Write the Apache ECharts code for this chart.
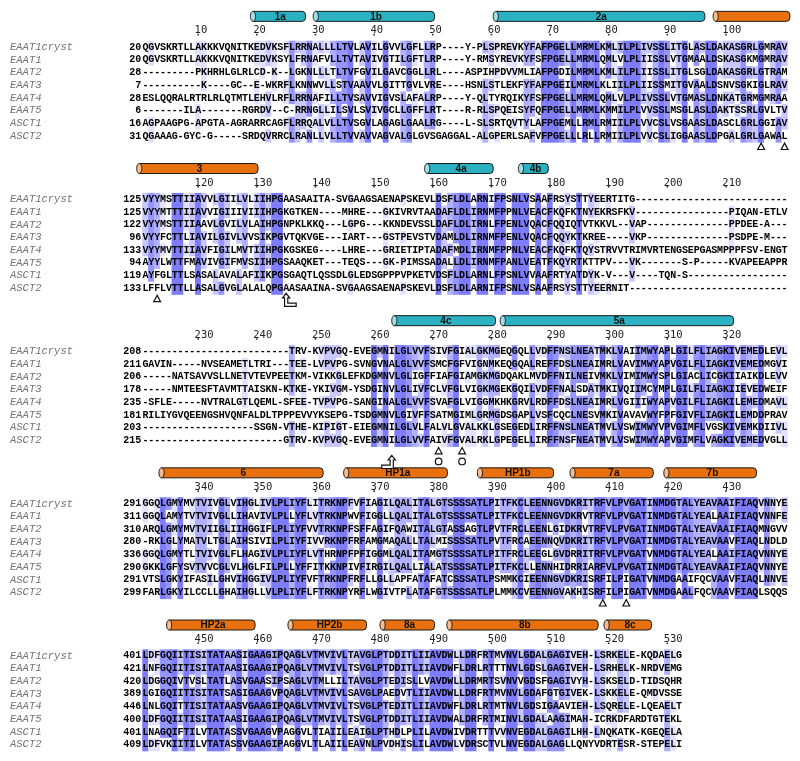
<!DOCTYPE html>
<html><head><meta charset="utf-8">
<script src="https://cdn.jsdelivr.net/npm/echarts@6/dist/echarts.min.js"></script>
<style>html,body{margin:0;padding:0;background:#fff}#c{width:800px;height:761px}</style>
</head><body><div id="c"></div>
<script>
// ---------------- DATA ----------------
const seqNames = ['EAAT1cryst','EAAT1','EAAT2','EAAT3','EAAT4','EAAT5','ASCT1','ASCT2'];
const startNums = [
  [20,20,28,7,28,6,16,31],
  [125,125,122,96,133,94,119,133],
  [208,211,206,178,235,181,203,215],
  [291,311,310,280,336,290,291,299],
  [401,421,420,389,446,400,401,409]
];
const seqBlock1 = [
'QGVSKRTLLAKKKVQNITKEDVKSFLRRNALLLLTVLAVILGVVLGFLLRP----Y-PLSPREVKYFAFPGELLMRMLKMLILPLIVSSLITGLASLDAKASGRLGMRAV',
'QGVSKRTLLAKKKVQNITKEDVKSYLFRNAFVLLTVTAVIVGTILGFTLRP----Y-RMSYREVKYFSFPGELLMRMLQMLVLPLIISSLVTGMAALDSKASGKMGMRAV',
'---------PKHRHLGLRLCD-K--LGKNLLLTLTVFGVILGAVCGGLLRL----ASPIHPDVVMLIAFPGDILMRMLKMLILPLIISSLITGLSGLDAKASGRLGTRAM',
'----------K----GC--E-WKRFLKNNWVLLSTVAAVVLGITTGVLVRE----HSNLSTLEKFYFAFPGEILMRMLKLIILPLIISSMITGVAALDSNVSGKIGLRAV',
'ESLQQRALRTRLRLQTMTLEHVLRFLRRNAFILLTVSAVVIGVSLAFALRP----Y-QLTYRQIKYFSFPGELLMRMLQMLVLPLIVSSLVTGMASLDNKATGRMGMRAA',
'-------ILA-------RGRDV--C-RRNGLLILSVLSVIVGCLLGFFLRT----R-RLSPQEISYFQFPGELLMRMLKMMILPLVVSSLMSGLASLDAKTSSRLGVLTV',
'AGPAAGPG-APGTA-AGRARRCAGFLRRQALVLLTVSGVLAGAGLGAALRG----L-SLSRTQVTYLAFPGEMLLRMLRMIILPLVVCSLVSGAASLDASCLGRLGGIAV',
'QGAAAG-GYC-G-----SRDQVRRCLRANLLVLLTVVAVVAGVALGLGVSGAGGAL-ALGPERLSAFVFPGELLLRLLRMIILPLVVCSLIGGAASLDPGALGRLGAWAL'
];
const seqBlock2 = [
'VYYMSTTIIAVVLGIILVLIIHPGAASAAITA-SVGAAGSAENAPSKEVLDSFLDLARNIFPSNLVSAAFRSYSTTYEERTITG' + '-'.repeat(26),
'VYYMTTTIIAVVIGIIIVIIIHPGKGTKEN----MHRE---GKIVRVTAADAFLDLIRNMFPPNLVEACFKQFKTNYEKRSFKV' + '-'.repeat(16) + 'PIQAN-ETLV',
'VYYMSTTIIAAVLGVILVLAIHPGNPKLKKQ---LGPG---KKNDEVSSLDAFLDLIRNLFPENLVQACFQQIQTVTKKVL--VAP' + '-'.repeat(14) + 'PPDEE-A---',
'VYYFCTTLIAVILGIVLVVSIKPGVTQKVGE---IART---GSTPEVSTVDAMLDLIRNMFPENLVQACFQQYKTKREE----VKP' + '-'.repeat(14) + 'PSDPE-M---',
'VYYMVTTIIAVFIGILMVTIIHPGKGSKEG----LHRE---GRIETIPTADAFMDLIRNMFPPNLVEACFKQFKTQYSTRVVTRIMVRTENGSEPGASMPPPFSV-ENGT',
'AYYLWTTFMAVIVGIFMVSIIHPGSAAQKET---TEQS---GK-PIMSSADALLDLIRNMFPANLVEATFKQYRTKTTPV---VK-------S-P-----KVAPEEAPPR',
'AYFGLTTLSASALAVALAFIIKPGSGAQTLQSSDLGLEDSGPPPVPKETVDSFLDLARNLFPSNLVVAAFRTYATDYK-V---V----TQN-S' + '-'.repeat(17),
'LFFLVTTLLASALGVGLALALQPGAASAAINA-SVGAAGSAENAPSKEVLDSFLDLARNIFPSNLVSAAFRSYSTTYEERNIT' + '-'.repeat(27)
];
const seqBlock3 = [
'-'.repeat(25) + 'TRV-KVPVGQ-EVEGMNILGLVVFSIVFGIALGKMGEQGQLLVDFFNSLNEATMKLVAIIMWYAPLGILFLIAGKIVEMEDLEVL',
'GAVIN-----NVSEAMETLTRI---TEE-LVPVPG-SVNGVNALGLVVFSMCFGFVIGNMKEQGQALREFFDSLNEAIMRLVAVIMWYAPVGILFLIAGKIVEMEDMGVI',
'-----NATSAVVSLLNETVTEVPEETKM-VIKKGLEFKDGMNVLGLIGFFIAFGIAMGKMGDQAKLMVDFFNILNEIVMKLVIMIMWYSPLGIACLICGKIIAIKDLEVV',
'-----NMTEESFTAVMTTAISKN-KTKE-YKIVGM-YSDGINVLGLIVFCLVFGLVIGKMGEKGQILVDFFNALSDATMKIVQIIMCYMPLGILFLIAGKIIEVEDWEIF',
'-SFLE-----NVTRALGTLQEML-SFEE-TVPVPG-SANGINALGLVVFSVAFGLVIGGMKHKGRVLRDFFDSLNEAIMRLVGIIIWYAPVGILFLIAGKILEMEDMAVL',
'RILIYGVQEENGSHVQNFALDLTPPPEVVYKSEPG-TSDGMNVLGIVFFSATMGIMLGRMGDSGAPLVSFCQCLNESVMKIVAVAVWYFPFGIVFLIAGKILEMDDPRAV',
'-'.repeat(19) + 'SSGN-VTHE-KIPIGT-EIEGMNILGLVLFALVLGVALKKLGSEGEDLIRFFNSLNEATMVLVSWIMWYVPVGIMFLVGSKIVEMKDIIVL',
'-'.repeat(24) + 'GTRV-KVPVGQ-EVEGMNILGLVVFAIVFGVALRKLGPEGELLIRFFNSFNEATMVLVSWIMWYAPVGIMFLVAGKIVEMEDVGLL'
];
const seqBlock4 = [
'GGQLGMYMVTVIVGLVIHGLIVLPLIYFLITRKNPFVFIAGILQALITALGTSSSSATLPITFKCLEENNGVDKRITRFVLPVGATINMDGTALYEAVAAIFIAQVNNYE',
'GGQLAMYTVTVIVGLLIHAVIVLPLLYFLVTRKNPWVFIGGLLQALITALGTSSSSATLPITFKCLEENNGVDKRVTRFVLPVGATINMDGTALYEALAAIFIAQVNNFE',
'ARQLGMYMVTVIIGLIIHGGIFLPLIYFVVTRKNPFSFFAGIFQAWITALGTASSAGTLPVTFRCLEENLGIDKRVTRFVLPVGATINMDGTALYEAVAAIFIAQMNGVV',
'-RKLGLYMATVLTGLAIHSIVILPLIYFIVVRKNPFRFAMGMAQALLTALMISSSSATLPVTFRCAEENNQVDKRITRFVLPVGATINMDGTALYEAVAAVFIAQLNDLD',
'GGQLGMYTLTVIVGLFLHAGIVLPLIYFLVTHRNPFPFIGGMLQALITAMGTSSSSATLPITFRCLEEGLGVDRRITRFVLPVGATVNMDGTALYEALAAIFIAQVNNYE',
'GKKLGFYSVTVVCGLVLHGLFILPLLYFFITKKNPIVFIRGILQALLIALATSSSSATLPITFKCLLENNHIDRRIARFVLPVGATINMDGTALYEAVAAIFIAQVNNYE',
'VTSLGKYIFASILGHVIHGGIVLPLIYFVFTRKNPFRFLLGLLAPFATAFATCSSSATLPSMMKCIEENNGVDKRISRFILPIGATVNMDGAAIFQCVAAVFIAQLNNVE',
'FARLGKYILCCLLGHAIHGLLVLPLIYFLFTRKNPYRFLWGIVTPLATAFGTSSSSATLPLMMKCVEENNGVAKHISRFILPIGATVNMDGAALFQCVAAVFIAQLSQQS'
];
const seqBlock5 = [
'LDFGQIITISITATAASIGAAGIPQAGLVTMVIVLTAVGLPTDDITLIIAVDWLLDRFRTMVNVLGDALGAGIVEH-LSRKELE-KQDAELG',
'LNFGQIITISITATAASIGAAGIPQAGLVTMVIVLTSVGLPTDDITLIIAVDWFLDRLRTTTNVLGDSLGAGIVEH-LSRHELK-NRDVEMG',
'LDGGQIVTVSLTATLASVGAASIPSAGLVTMLLILTAVGLPTEDISLLVAVDWLLDRMRTSVNVVGDSFGAGIVYH-LSKSELD-TIDSQHR',
'LGIGQIITISITATSASIGAAGVPQAGLVTMVIVLSAVGLPAEDVTLIIAVDWLLDRFRTMVNVLGDAFGTGIVEK-LSKKELE-QMDVSSE',
'LNLGQITTISITATAASVGAAGIPQAGLVTMVIVLTSVGLPTEDITLIIAVDWFLDRLRTMTNVLGDSIGAAVIEH-LSQRELE-LQEAELT',
'LDFGQIITISITATAASIGAAGIPQAGLVTMVIVLTSVGLPTDDITLIIAVDWALDRFRTMINVLGDALAAGIMAH-ICRKDFARDTGTEKL',
'LNAGQIFTILVTATASSVGAAGVPAGGVLTIAIILEAIGLPTHDLPLILAVDWIVDRTTTVVNVEGDALGAGILHH-LNQKATK-KGEQELA',
'LDFVKIITILVTATASSVGAAGIPAGGVLTLAIILEAVNLPVDHISLILAVDWLVDRSCTVLNVEGDALGAGLLQNYVDRTESR-STEPELI'
];
const rulerTicks = [
  [10,20,30,40,50,60,70,80,90,100],
  [120,130,140,150,160,170,180,190,200,210],
  [230,240,250,260,270,280,290,300,310,320],
  [340,350,360,370,380,390,400,410,420,430],
  [450,460,470,480,490,500,510,520,530]
];
// helices: label, first / last alignment column edge, type, block
const helixLabels = ['1a','1b','2a','','3','4a','4b','4c','5a','6','HP1a','HP1b','7a','7b','HP2a','HP2b','8a','8b','8c'];
const helixFrom   = [18.4,29.1,59.8,97.3,109,158.1,174.1,262.5,281,332.8,364.3,387.1,402.9,418.9,444.1,464.8,480.5,491.9,518.7];
const helixTo     = [27.8,49.8,95.9,110.4,129.7,169.8,179.2,280.2,320.8,360.8,382,400.1,417.1,434.7,459.2,478.2,489.8,517.7,526.8];
const helixType   = ['tm','tm','tm','hp','hp','tm','tm','tm','tm','hp','hp','hp','hp','hp','hp','hp','hp','hp','hp'];
const helixBlock  = [0,0,0,0,1,1,1,2,2,3,3,3,3,3,4,4,4,4,4];
const triangleCols = [106,110,113,271,275,409,413];
const circleCols = [271,275];
const arrowCols = [135,263];
const arrowFoot = ['right','left'];

// ---------------- BUILD ----------------
const blocks = [seqBlock1, seqBlock2, seqBlock3, seqBlock4, seqBlock5];
const PER = 110, SLOTS = 12, FIRST = 2, NSLOT = 60;
blocks.forEach((blk, b) => {
  const L = blk[0].length;
  blk.forEach((s, r) => { if (s.length !== L) throw new Error('len mismatch block ' + (b+1) + ' row ' + r + ': ' + s.length + ' vs ' + L); });
});
const heatData = [], letters = [];
blocks.forEach((blk, b) => {
  const L = blk[0].length;
  for (let i = 0; i < L; i++) {
    const col = blk.map(s => s[i]);
    blk.forEach((s, r) => {
      const ch = s[i];
      const n = ch === '-' ? 0 : col.filter(c => c === ch).length;
      heatData.push([i, b * SLOTS + FIRST + r, n]);
      letters.push(ch);
    });
  }
});
const slotNames = [], slotNums = [];
for (let s = 0; s < NSLOT; s++) {
  const b = Math.floor(s / SLOTS), k = s % SLOTS;
  if (b < 5 && k >= FIRST && k < FIRST + 8) { slotNames.push(seqNames[k - FIRST]); slotNums.push(String(startNums[b][k - FIRST])); }
  else { slotNames.push(''); slotNums.push(''); }
}
const colCats = []; for (let i = 1; i <= PER; i++) colCats.push(String(i));

const helixItems = helixLabels.map((lab, i) => ({
  label: lab, x1: helixFrom[i] - PER * helixBlock[i], x2: helixTo[i] - PER * helixBlock[i],
  y: helixBlock[i] * SLOTS + FIRST - 2.44, type: helixType[i]
}));
const rulerItems = [];
rulerTicks.forEach((arr, b) => arr.forEach(n => rulerItems.push({n, x: n - PER * b - 0.5, b})));
const markerItems = [];
triangleCols.forEach(c => { const b = Math.floor((c - 1) / PER); markerItems.push({kind:'tri', x: c - PER*b - 0.5, y: b*SLOTS + FIRST + 7.84}); });
circleCols.forEach(c => { const b = Math.floor((c - 1) / PER); markerItems.push({kind:'circ', x: c - PER*b - 0.5, y: b*SLOTS + FIRST + 8.66}); });
arrowCols.forEach((c, i) => { const b = Math.floor((c - 1) / PER);
  markerItems.push({kind: 'arrow', foot: arrowFoot[i], x: c - PER*b - 0.5, y: b*SLOTS + FIRST + (arrowFoot[i] === 'right' ? 7.94 : 8.72)}); });

function ellipsePts(cx, cy, rx, ry) {
  const p = []; for (let k = 0; k < 28; k++) { const t = k / 28 * Math.PI * 2; p.push([cx + rx * Math.cos(t), cy + ry * Math.sin(t)]); } return p;
}
function renderHelix(params, api) {
  const h = helixItems[params.dataIndex];
  const a = api.coord([h.x1, h.y]), c = api.coord([h.x2, h.y]);
  const H = 10, RX = 2.6;
  const x1 = a[0] + RX, x2 = c[0], y = a[1];
  const body = h.type === 'tm' ? '#2ab2c3' : '#e8700e';
  const cap = h.type === 'tm' ? '#a3dee6' : '#f7bb8e';
  const ch = [
    {type:'rect', shape:{x:x1, y:y - H/2, width:x2 - x1, height:H, r:[0,3.5,3.5,0]}, style:{fill:body, stroke:'#1b1b1b', lineWidth:1}},
    {type:'polygon', shape:{points: ellipsePts(x1, y, RX, H/2)}, style:{fill:cap, stroke:'#1b1b1b', lineWidth:1}}
  ];
  if (h.label) ch.push({type:'text', x:(x1 + x2)/2 + 1, y:y + 0.5, style:{text:h.label, font:'bold 10px "Liberation Sans", Arial, sans-serif', fill:'#111', align:'center', verticalAlign:'middle'}});
  return {type:'group', children:ch};
}
function renderRuler(params, api) {
  const r = rulerItems[params.dataIndex];
  const p = api.coord([r.x, r.b * SLOTS + FIRST - 1.31]);
  const d = api.coord([r.x, r.b * SLOTS + FIRST - 1.0]);
  return {type:'group', children:[
    {type:'text', x:p[0] - 3.6, y:p[1], style:{text:String(r.n), font:'10.5px "DejaVu Sans Mono", monospace', fill:'#222', align:'left', verticalAlign:'middle'}},
    {type:'rect', shape:{x:d[0] - 0.8, y:d[1] - 0.8, width:1.6, height:1.6}, style:{fill:'#333'}}
  ]};
}
function renderMarker(params, api) {
  const m = markerItems[params.dataIndex];
  const p = api.coord([m.x, m.y]);
  const st = {fill:'#fff', stroke:'#111', lineWidth:1.2};
  if (m.kind === 'tri') return {type:'polygon', shape:{points:[[p[0], p[1]-3.6],[p[0]+3.4, p[1]+2.8],[p[0]-3.4, p[1]+2.8]]}, style:st};
  if (m.kind === 'circ') return {type:'circle', shape:{cx:p[0], cy:p[1], r:3.3}, style:st};
  const sx = p[0], ty = p[1] - 6.8, by = p[1] + 6.3;
  let pts;
  if (m.foot === 'left') {
    pts = [[sx, ty],[sx + 3.6, ty + 4.6],[sx + 1.6, ty + 4.6],[sx + 1.6, by],[sx - 10, by],[sx - 10, by - 3.4],[sx - 1.6, by - 3.4],[sx - 1.6, ty + 4.6],[sx - 3.6, ty + 4.6]];
  } else {
    pts = [[sx, ty],[sx + 3.6, ty + 4.6],[sx + 1.6, ty + 4.6],[sx + 1.6, by - 3.4],[sx + 10, by - 3.4],[sx + 10, by],[sx - 1.6, by],[sx - 1.6, ty + 4.6],[sx - 3.6, ty + 4.6]];
  }
  return {type:'polygon', shape:{points:pts}, style:st};
}

const G = {left:142.5, top:15.6, width:645.04, height:760.8, outerBoundsMode:'none', containLabel:false};
const chart = echarts.init(document.getElementById('c'), null, {renderer:'canvas', width:800, height:761});
chart.setOption({
  animation:false,
  backgroundColor:'#ffffff',
  grid:[Object.assign({}, G), Object.assign({}, G)],
  xAxis:[
    {type:'category', gridIndex:0, data:colCats, show:false},
    {type:'value', gridIndex:1, min:0, max:PER, show:false}
  ],
  yAxis:[
    {type:'category', gridIndex:0, data:slotNames, inverse:true, position:'left',
     axisLine:{show:false}, axisTick:{show:false}, splitLine:{show:false},
     axisLabel:{interval:0, align:'left', margin:132.5, fontFamily:'"Liberation Mono", monospace', fontStyle:'italic', fontSize:10.5, color:'#727272'}},
    {type:'category', gridIndex:0, data:slotNums, inverse:true, position:'left', offset:0,
     axisLine:{show:false}, axisTick:{show:false}, splitLine:{show:false},
     axisLabel:{interval:0, align:'right', margin:1.2, fontFamily:'"Liberation Mono", monospace', fontWeight:'bold', fontSize:10, color:'#000'}},
    {type:'value', gridIndex:1, min:-0.5, max:NSLOT - 0.5, inverse:true, show:false}
  ],
  visualMap:{type:'piecewise', show:false, dimension:2, seriesIndex:0,
    pieces:[{value:8, color:'#7c7cfc'},{value:7, color:'#9595fd'},{value:6, color:'#b0b0fe'},{value:5, color:'#c8c8ff'},{value:4, color:'#e2e2ff'},{lte:3, color:'#ffffff'}]},
  series:[
    {type:'heatmap', xAxisIndex:0, yAxisIndex:0, data:heatData, progressive:0, silent:true,
     emphasis:{disabled:true},
     label:{show:true, formatter:p => letters[p.dataIndex], fontFamily:'"Liberation Mono", monospace', fontWeight:'bold', fontSize:10, color:'#000'}},
    {type:'custom', xAxisIndex:1, yAxisIndex:2, clip:false, silent:true, renderItem:renderHelix, data:helixItems.map(h => [h.x1, h.y])},
    {type:'custom', xAxisIndex:1, yAxisIndex:2, clip:false, silent:true, renderItem:renderRuler, data:rulerItems.map(r => [r.x, r.b])},
    {type:'custom', xAxisIndex:1, yAxisIndex:2, clip:false, silent:true, renderItem:renderMarker, data:markerItems.map(m => [m.x, m.y])}
  ]
});
</script>
</body></html>
